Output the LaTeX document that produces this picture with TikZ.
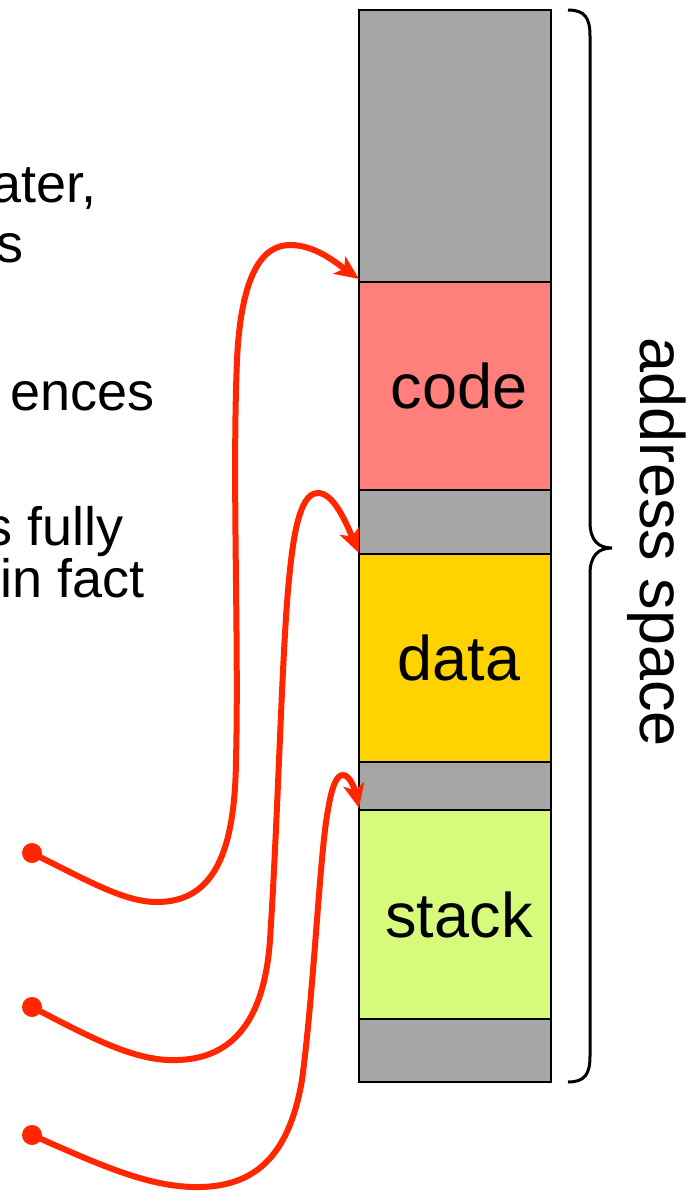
\documentclass[tikz,border=0pt]{standalone}
\usepackage{fontspec}
\setmainfont{Liberation Sans}
\usetikzlibrary{arrows.meta}
\definecolor{segGray}{RGB}{166,166,166}
\definecolor{codeCol}{RGB}{255,127,124}
\definecolor{dataCol}{RGB}{255,210,0}
\definecolor{stackCol}{RGB}{214,250,123}
\definecolor{ptrRed}{RGB}{255,38,0}
\begin{document}
\begin{tikzpicture}[x=1pt,y=-1pt,
  seg/.style={draw=black, line width=1.6pt, minimum width=192pt, inner sep=0pt, outer sep=0pt},
  lbl/.style={font=\fontsize{63}{70}\selectfont, inner sep=0pt},
  sidetxt/.style={font=\fontsize{54}{60}\selectfont, inner sep=0pt, anchor=base east},
  ptr/.style={draw=ptrRed, line width=6pt, -{Stealth[length=24pt,width=21pt,inset=6pt]}},
  dot/.style={circle, fill=ptrRed, minimum size=20pt, inner sep=0pt}]
\useasboundingbox (0,0) rectangle (696,1191);
\clip (0,0) rectangle (696,1191);
% address space column
\node[seg, fill=segGray, minimum height=272pt] (g1) at (455,146) {};
\node[seg, fill=codeCol, minimum height=208pt] (code) at (455,386) {};
\node[seg, fill=segGray, minimum height=64pt] (g2) at (455,522) {};
\node[seg, fill=dataCol, minimum height=208pt] (data) at (455,658) {};
\node[seg, fill=segGray, minimum height=48pt] (g3) at (455,786) {};
\node[seg, fill=stackCol, minimum height=209pt] (stack) at (455,914.5) {};
\node[seg, fill=segGray, minimum height=63pt] (g4) at (455,1050.5) {};
\node[lbl] (codet) at ([xshift=4pt]code.center) {code};
\node[lbl] (datat) at ([xshift=4pt]data.center) {data};
\node[lbl] (stackt) at ([xshift=4pt]stack.center) {stack};
% brace
\draw[line width=3pt] (568,10) .. controls (585,10) and (590,18) .. (590,36)
  -- (590,522) .. controls (590,540) and (598,548) .. (612,548)
  .. controls (598,548) and (590,556) .. (590,574)
  -- (590,1056) .. controls (590,1074) and (585,1082) .. (568,1082);
\node[lbl, rotate=-90, anchor=base] (as) at (640,542) {address space};
% left text (clipped at the edge as in the reference)
\node[sidetxt] (t1) at (97,202) {ater,};
\node[sidetxt] (t2) at (24,262) {s};
\node[sidetxt] (t3) at (155,410) {ences};
\node[sidetxt] (t4) at (124,545) {s fully};
\node[sidetxt] (t5) at (145,597) {in fact};
% pointers
\node[dot] (d1) at (32,853) {};
\node[dot] (d2) at (32,1007) {};
\node[dot] (d3) at (32,1135) {};
\draw[ptr] (d1.center) .. controls (90,882) and (125,902) .. (157,902)
  .. controls (215,902) and (235,850) .. (236,760)
  .. controls (239,640) and (232,480) .. (237,360)
  .. controls (241,275) and (262,245) .. (290,245)
  .. controls (315,245) and (335,262) .. ([yshift=3pt]code.north west);
\draw[ptr] (d2.center) .. controls (90,1037) and (135,1062) .. (178,1060)
  .. controls (240,1058) and (265,1010) .. (270,940)
  .. controls (279,800) and (282,640) .. (290,570)
  .. controls (296,510) and (306,493) .. (318,493)
  .. controls (333,493) and (345,520) .. ([yshift=1pt]data.north west);
\draw[ptr] (d3.center) .. controls (100,1165) and (150,1188) .. (200,1187)
  .. controls (260,1186) and (290,1150) .. (302,1080)
  .. controls (314,990) and (320,850) .. (328,810)
  .. controls (332,785) and (337,775) .. (343,775)
  .. controls (350,775) and (355,790) .. ([yshift=2pt]stack.north west);
\end{tikzpicture}
\end{document}
